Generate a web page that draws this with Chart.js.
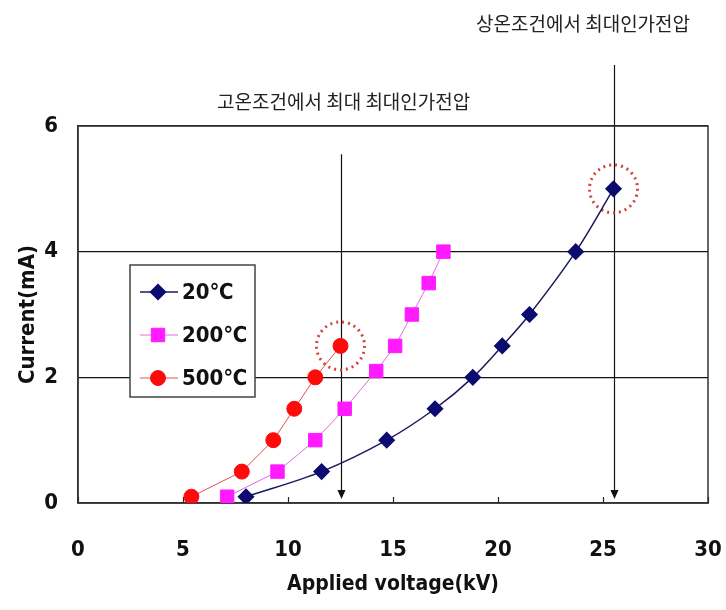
<!DOCTYPE html>
<html>
<head>
<meta charset="utf-8">
<script src="https://cdn.jsdelivr.net/npm/chart.js@4.4.0/dist/chart.umd.min.js"></script>
<style>
  html, body { margin: 0; padding: 0; background: #fff; }
  #wrap { width: 726px; height: 610px; }
</style>
</head>
<body>
<div id="wrap"><canvas id="chart"></canvas></div>
<script>
// data
const seriesNames = ["20℃", "200℃", "500℃"];
const volt20 = [8.0, 11.6, 14.7, 17.0, 18.8, 20.2, 21.5, 23.7, 25.5];
const curr20 = [0.1, 0.5, 1.0, 1.5, 2.0, 2.5, 3.0, 4.0, 5.0];
const volt200 = [7.1, 9.5, 11.3, 12.7, 14.2, 15.1, 15.9, 16.7, 17.4];
const curr200 = [0.1, 0.5, 1.0, 1.5, 2.1, 2.5, 3.0, 3.5, 4.0];
const volt500 = [5.4, 7.8, 9.3, 10.3, 11.3, 12.5];
const curr500 = [0.1, 0.5, 1.0, 1.5, 2.0, 2.5];
const xTicks = [0, 5, 10, 15, 20, 25, 30];
const yTicks = [0, 2, 4, 6];

// max applied voltage notes (data units)
const noteX = [12.5, 25.5];
const noteY = [2.5, 5.0];
const noteArrowTop = [5.55, 6.97];
const noteTextX = [12.65, 24.05];
const noteTextY = [6.38, 7.62];
const noteLabels = ["고온조건에서 최대 최대인가전압", "상온조건에서 최대인가전압"];

const NUM_FONT = "'Liberation Sans Narrow', 'DejaVu Sans Condensed', 'Liberation Sans', Arial, sans-serif";

function pts(xs, ys) {
  return xs.map((x, i) => ({ x: x, y: ys[i] }));
}

const notesPlugin = {
  id: "notes",
  beforeDatasetsDraw(chart) {
    const ctx = chart.ctx, x = chart.scales.x, y = chart.scales.y;
    ctx.save();
    // inner tick marks on the x axis
    ctx.strokeStyle = "#222";
    ctx.lineWidth = 1.2;
    xTicks.forEach(v => {
      const px = Math.round(x.getPixelForValue(v)) + 0.5;
      ctx.beginPath();
      ctx.moveTo(px, y.bottom);
      ctx.lineTo(px, y.bottom - 6);
      ctx.stroke();
    });
    // arrows
    noteX.forEach((v, i) => {
      const px = Math.round(x.getPixelForValue(v)) + 0.5;
      const top = y.getPixelForValue(noteArrowTop[i]);
      const bot = y.bottom - 4;
      ctx.strokeStyle = "#111";
      ctx.lineWidth = 1.2;
      ctx.beginPath();
      ctx.moveTo(px, top);
      ctx.lineTo(px, bot - 6);
      ctx.stroke();
      ctx.fillStyle = "#111";
      ctx.beginPath();
      ctx.moveTo(px - 4, bot - 9);
      ctx.lineTo(px + 4, bot - 9);
      ctx.lineTo(px, bot);
      ctx.closePath();
      ctx.fill();
    });
    // dotted circles
    noteX.forEach((v, i) => {
      ctx.strokeStyle = "#d2443c";
      ctx.lineWidth = 3;
      ctx.setLineDash([2, 4]);
      ctx.beginPath();
      ctx.arc(x.getPixelForValue(v), y.getPixelForValue(noteY[i]), 24, 0, Math.PI * 2);
      ctx.stroke();
    });
    ctx.setLineDash([]);
    // frame
    const a = chart.chartArea;
    ctx.strokeStyle = "#333";
    ctx.lineWidth = 1.5;
    ctx.strokeRect(a.left, a.top, a.right - a.left, a.bottom - a.top);
    ctx.restore();
  },
  afterDatasetsDraw(chart) {
    const ctx = chart.ctx, x = chart.scales.x, y = chart.scales.y;
    ctx.save();
    ctx.fillStyle = "#222";
    ctx.font = "19px 'Noto Sans CJK KR', sans-serif";
    ctx.textAlign = "center";
    ctx.textBaseline = "middle";
    noteLabels.forEach((t, i) => {
      ctx.fillText(t, x.getPixelForValue(noteTextX[i]), y.getPixelForValue(noteTextY[i]));
    });
    // legend box
    const lx = 130, ly = 265, lw = 125, lh = 132;
    ctx.fillStyle = "#fff";
    ctx.fillRect(lx, ly, lw, lh);
    ctx.strokeStyle = "#444";
    ctx.lineWidth = 1.5;
    ctx.strokeRect(lx, ly, lw, lh);
    chart.data.datasets.forEach((ds, i) => {
      const cy = ly + 27 + i * 43;
      ctx.strokeStyle = ds.borderColor;
      ctx.lineWidth = ds.borderWidth;
      ctx.beginPath();
      ctx.moveTo(lx + 10, cy);
      ctx.lineTo(lx + 48, cy);
      ctx.stroke();
      ctx.fillStyle = ds.pointBackgroundColor;
      ctx.strokeStyle = ds.pointBorderColor;
      Chart.helpers.drawPoint(ctx, {
        pointStyle: ds.pointStyle, radius: ds.pointRadius, borderWidth: 1, rotation: 0
      }, lx + 28, cy);
      ctx.fillStyle = "#111";
      ctx.font = "bold 22px " + NUM_FONT;
      ctx.textAlign = "left";
      ctx.fillText(seriesNames[i], lx + 52, cy + 1);
    });
    ctx.restore();
  }
};

new Chart(document.getElementById("chart"), {
  type: "line",
  data: {
    datasets: [
      {
        label: seriesNames[0],
        data: pts(volt20, curr20),
        borderColor: "#1a1a5e",
        borderWidth: 1.5,
        pointStyle: "rectRot",
        pointRadius: 7.5,
        pointBackgroundColor: "#0b0b70",
        pointBorderColor: "#0b0b70",
        tension: 0.35
      },
      {
        label: seriesNames[1],
        data: pts(volt200, curr200),
        borderColor: "#e26ae2",
        borderWidth: 1,
        pointStyle: "rect",
        pointRadius: 9.5,
        pointBackgroundColor: "#ff1aff",
        pointBorderColor: "#ff1aff",
        tension: 0
      },
      {
        label: seriesNames[2],
        data: pts(volt500, curr500),
        borderColor: "#e05050",
        borderWidth: 1,
        pointStyle: "circle",
        pointRadius: 7.5,
        pointBackgroundColor: "#ff0a0a",
        pointBorderColor: "#ff0a0a",
        tension: 0
      }
    ]
  },
  options: {
    responsive: true,
    maintainAspectRatio: false,
    animation: false,
    layout: { padding: { left: 0, top: 126, right: 18, bottom: 0 } },
    plugins: {
      legend: { display: false },
      tooltip: { enabled: false }
    },
    scales: {
      x: {
        type: "linear",
        min: xTicks[0],
        max: xTicks[xTicks.length - 1],
        afterFit(scale) {
          scale.height = 107;
          scale.paddingLeft = 0;
          scale.paddingRight = 0;
        },
        afterBuildTicks(scale) { scale.ticks = xTicks.map(v => ({ value: v })); },
        grid: { display: false, drawTicks: false },
        border: { display: true, color: "#333", width: 1.5 },
        ticks: { padding: 34, color: "#111", font: { family: NUM_FONT, size: 22, weight: "bold" } },
        title: {
          display: true,
          text: "Applied voltage(kV)",
          color: "#111",
          font: { family: NUM_FONT, size: 21, weight: "bold" },
          padding: { top: 0, bottom: 13 }
        }
      },
      y: {
        type: "linear",
        min: yTicks[0],
        max: yTicks[yTicks.length - 1],
        afterFit(scale) {
          scale.width = 78;
          scale.paddingTop = 0;
          scale.paddingBottom = 0;
        },
        afterBuildTicks(scale) { scale.ticks = yTicks.map(v => ({ value: v })); },
        grid: { color: "#111", lineWidth: 1.3, drawTicks: false },
        border: { display: true, color: "#333", width: 1.5 },
        ticks: { padding: 20, color: "#111", font: { family: NUM_FONT, size: 22, weight: "bold" } },
        title: {
          display: true,
          text: "Current(mA)",
          color: "#111",
          font: { family: NUM_FONT, size: 22, weight: "bold" },
          padding: { top: 15, bottom: 0 }
        }
      }
    }
  },
  plugins: [notesPlugin]
});
</script>
</body>
</html>
